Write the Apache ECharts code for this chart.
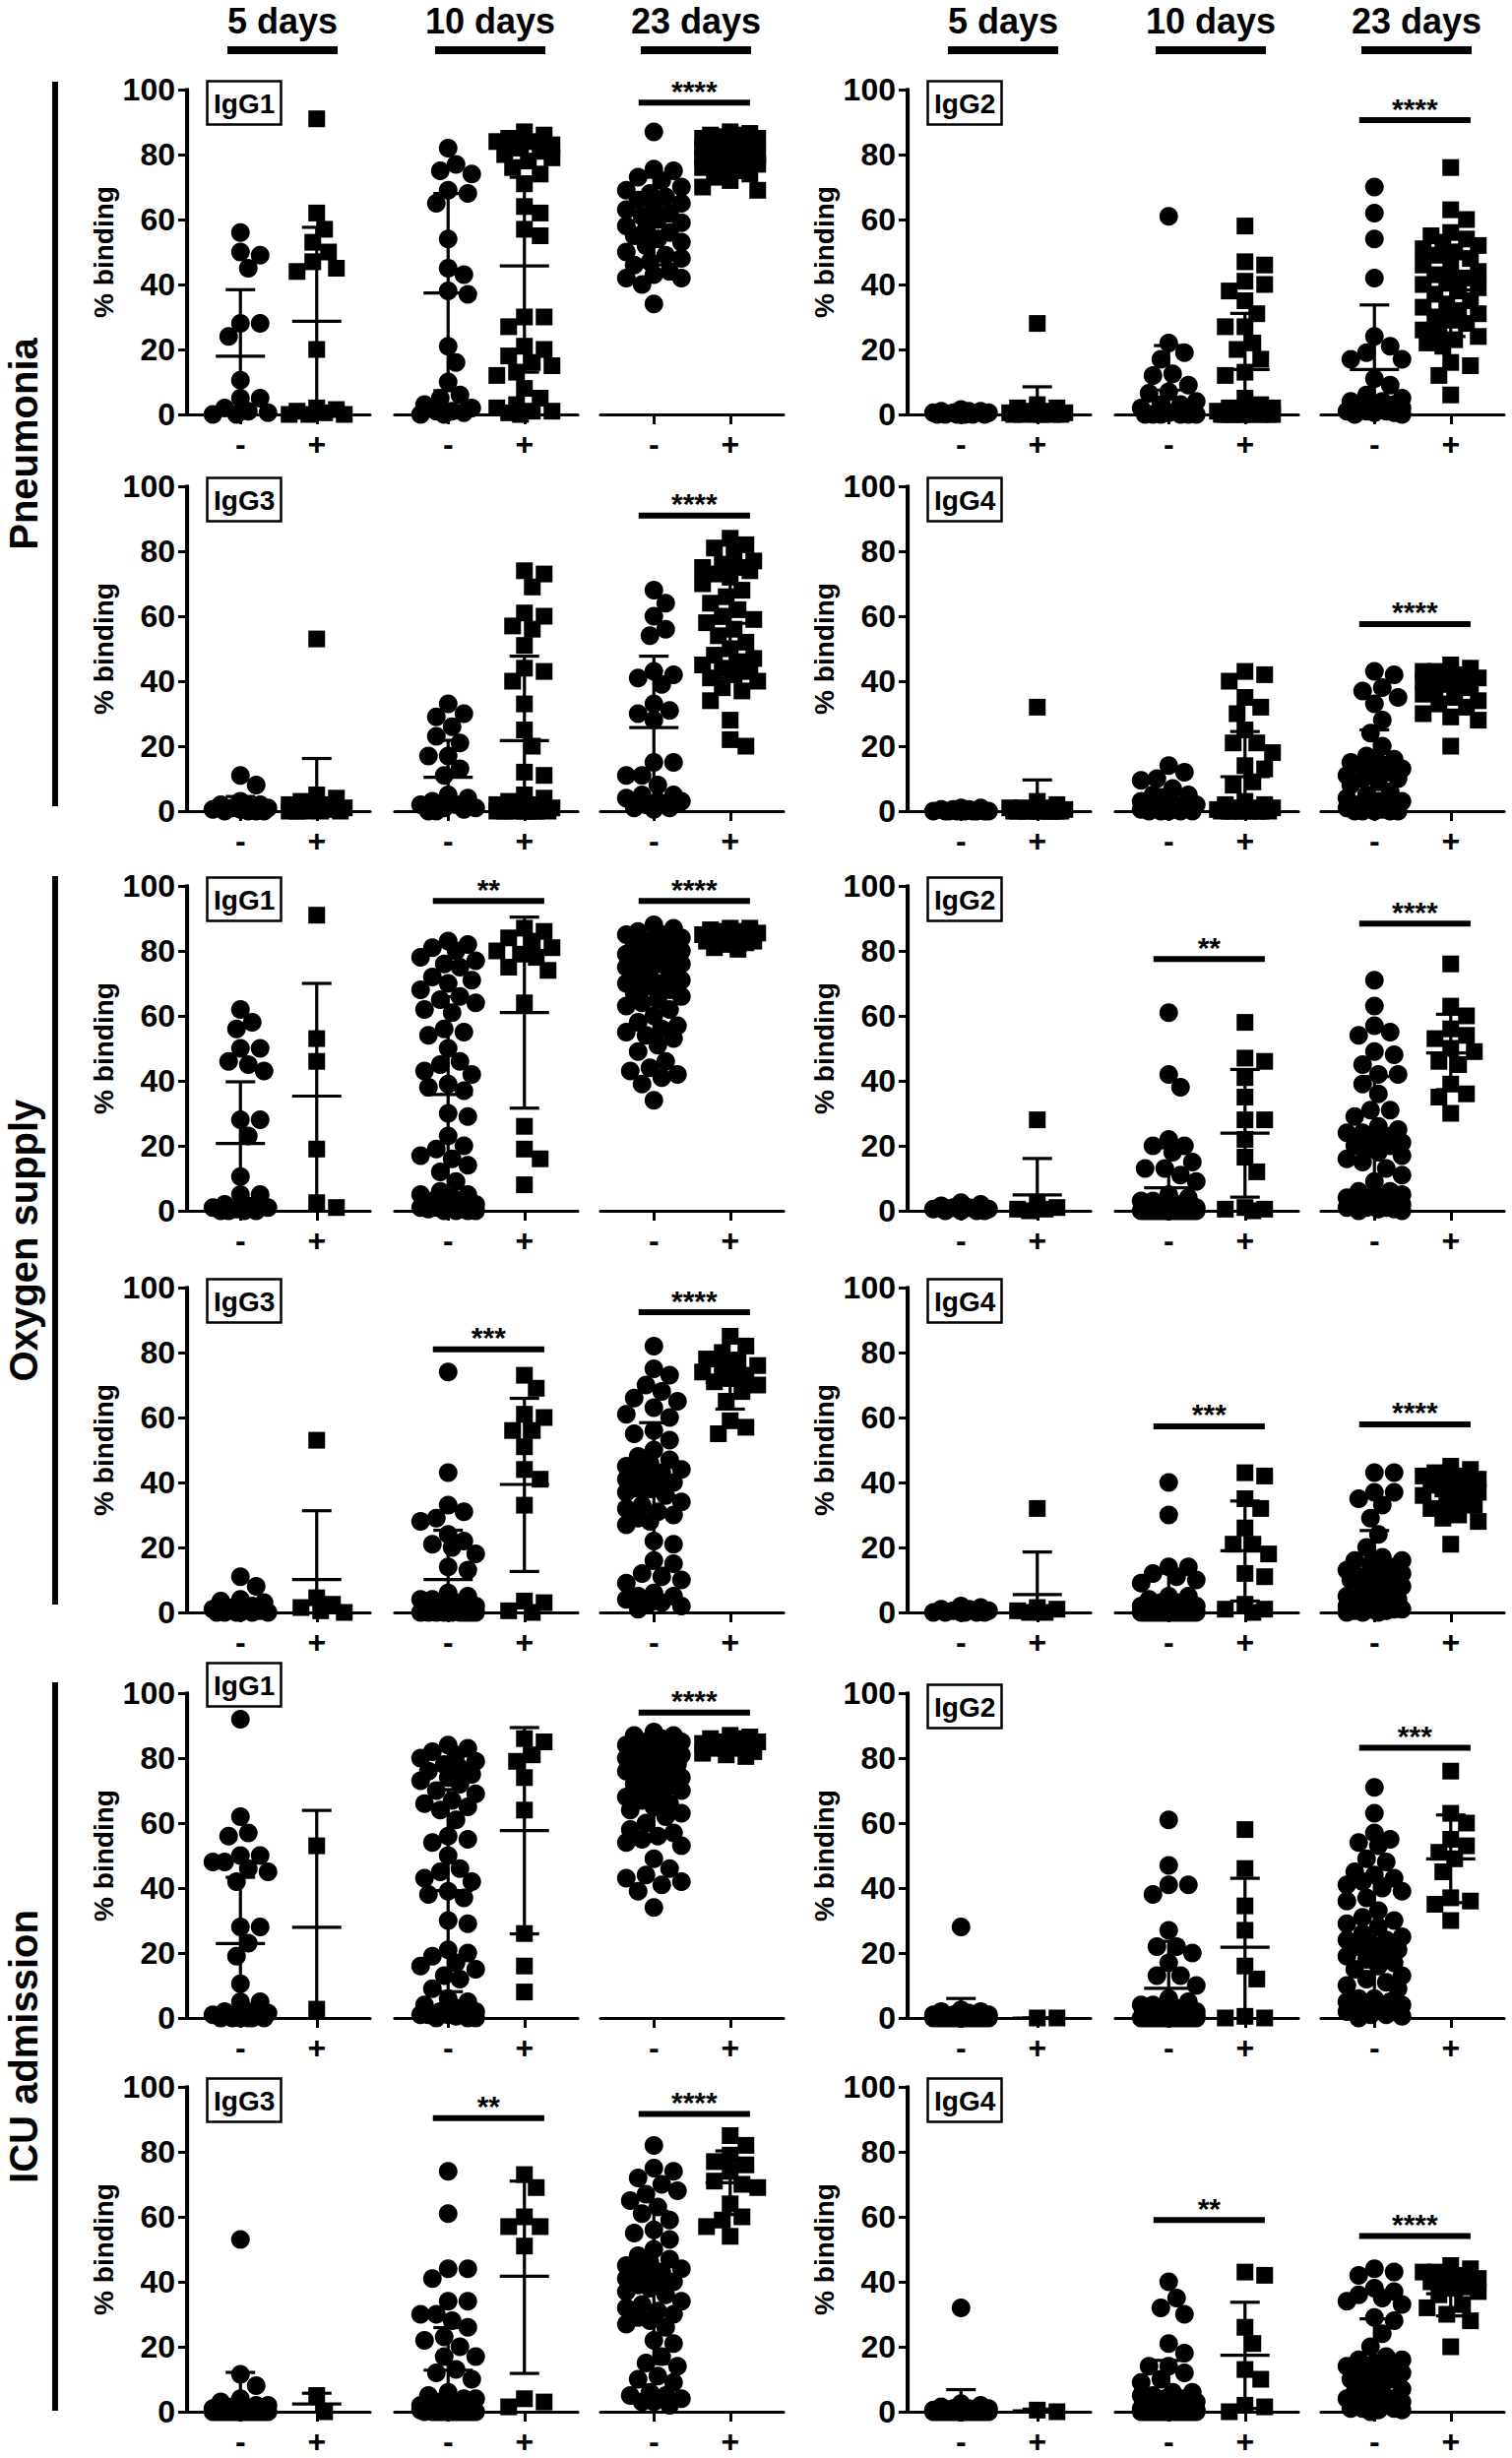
<!DOCTYPE html>
<html>
<head>
<meta charset="utf-8">
<title>IgG subclass binding</title>
<script src="https://cdn.jsdelivr.net/npm/echarts@6/dist/echarts.min.js"></script>
<style>
  html, body { margin: 0; padding: 0; background: #fff; }
  #main { width: 1536px; height: 2497px; }
</style>
</head>
<body>
<div id="main"></div>
<script>
// labels
var dayGroups = ['5 days', '10 days', '23 days'];
var statusLabels = ['-', '+'];
var rowGroups = ['Pneumonia', 'Oxygen supply', 'ICU admission'];

// % binding per panel, columns: 5d-, 5d+, 10d-, 10d+, 23d-, 23d+
var pneuIgG1 = [
  [56, 50, 49, 45, 28, 28, 24, 10.5, 5, 5, 2, 1, 0.5, 0, 0],
  [91, 62, 57, 53, 50, 47, 45, 44, 20, 2, 1.5, 1, 0.5, 0, 0, 0],
  [82, 77, 75, 74, 69, 68, 65, 54, 45, 43, 38, 37, 21, 16, 10, 6, 5, 3, 2, 1, 1, 0.5, 0, 0],
  [87, 86, 85, 84, 84, 83, 82, 81, 80, 79, 78, 76, 74, 71, 64, 62, 57, 55, 30, 30, 27, 21, 20, 18, 16, 15, 13, 12, 8, 5, 3, 2, 1, 1, 0.5, 0],
  [87, 75.5, 75, 73, 72, 70, 69, 68, 67, 66, 65, 64, 63, 62, 61, 60, 59, 58, 57, 56, 55, 54, 53, 52, 50, 49, 48, 47, 46, 44, 43, 42, 42, 40, 34],
  [87, 86.5, 86, 86, 85.5, 85, 85, 84, 84, 83, 83, 82, 82, 81, 81, 81, 80, 80, 80, 79, 79, 78, 78, 77, 77, 76, 76, 75, 74, 73, 72, 70, 69]
];
var pneuIgG2 = [
  [1.5, 1, 1, 1, 0.5, 0.5, 0.5, 0, 0, 0, 0, 0, 0, 0],
  [28, 3, 2, 2, 1, 1, 0.5, 0.5, 0, 0, 0, 0, 0, 0],
  [61, 22, 19, 17, 12.5, 12, 9, 7, 6.5, 4, 3, 3, 2, 1, 0.5, 0, 0, 0, 0, 0, 0],
  [58, 47, 46, 41, 40, 38, 35, 31, 27, 27, 22, 20, 17, 13, 12, 5, 3, 2, 2, 1, 1, 1, 0.5, 0.5, 0, 0, 0, 0, 0, 0, 0, 0, 0, 0],
  [70, 62, 54, 42, 24, 21, 19, 17, 17, 11, 9, 6, 5, 4, 4, 3, 3, 2, 2, 2, 1, 1, 1, 0.5, 0.5, 0, 0],
  [76, 63, 60, 56, 55, 54, 53, 52, 51, 50, 49, 48, 46, 45, 44, 43, 42, 41, 40, 39, 38, 37, 35, 34, 33, 32, 31, 30, 29, 28, 26, 25, 24, 23, 22, 21, 16, 15, 12, 6]
];
var pneuIgG3 = [
  [11, 8, 3, 2, 2, 1.5, 1, 1, 0.5, 0.5, 0, 0, 0, 0],
  [53, 5, 4, 3, 2, 2, 1, 1, 0.5, 0, 0, 0, 0, 0],
  [33, 30, 29, 26, 23, 21, 17, 17, 13, 11, 5, 4, 3, 2, 2, 1, 1, 0.5, 0, 0],
  [74, 73, 69, 61, 60, 57, 56, 51, 44, 43, 40, 33, 25, 20, 12, 11, 5, 4, 3, 2, 2, 1, 1, 0.5, 0, 0, 0, 0, 0, 0, 0, 0],
  [68, 64, 60, 56, 54, 43, 42, 41, 39, 33, 31, 30, 28, 15, 15, 11, 11, 8, 5, 5, 4, 3, 3, 2, 1, 1, 0.5],
  [84, 82, 81, 80, 77, 76, 75, 75, 74, 73, 72, 70, 68, 66, 64, 62, 60, 59, 58, 56, 54, 52, 50, 48, 47, 46, 45, 44, 43, 42, 41, 40, 38, 37, 34, 28, 22, 20]
];
var pneuIgG4 = [
  [1, 1, 0.5, 0.5, 0.5, 0, 0, 0, 0, 0, 0, 0, 0, 0],
  [32, 3, 2, 1, 1, 1, 0.5, 0.5, 0, 0, 0, 0, 0, 0, 0, 0, 0, 0],
  [14, 12, 10, 9.5, 7, 5, 5, 4, 3, 2, 2, 1, 1, 1, 0.5, 0.5, 0, 0, 0, 0, 0],
  [43, 42, 40, 35, 32, 30, 25, 21, 21, 18, 14, 13, 9, 8, 3, 2, 2, 1, 1, 1, 0.5, 0.5, 0, 0, 0, 0, 0, 0, 0, 0],
  [43, 42, 38, 37, 35, 33, 28, 24, 20, 17, 16, 15, 15, 14, 13, 12, 12, 11, 10, 10, 9, 8, 6, 5, 4, 3, 3, 2, 2, 1, 1, 0.5, 0, 0, 0, 0, 0],
  [45, 44, 43, 43, 42, 42, 41, 41, 40, 40, 40, 39, 39, 38, 37, 36, 35, 34, 33, 32, 30, 29, 28, 20]
];
var oxyIgG1 = [
  [62, 58, 56, 50, 50, 46, 45, 43, 28, 28, 23, 10.5, 5, 5, 2, 1.5, 1, 1, 0.5, 0, 0, 0, 0],
  [91, 53, 46, 19, 2.5, 1],
  [83, 82, 81, 80, 78, 77, 76, 75, 72, 71, 70, 68, 66, 65, 64, 62, 61, 56, 55, 54, 50, 46, 45, 43, 42, 39, 38, 37, 30, 29, 23, 20, 19, 17, 16, 14, 12, 9, 6, 5, 5, 4, 3, 2, 2, 2, 1, 1, 1, 0.5, 0.5, 0, 0, 0, 0],
  [87, 86, 84, 83, 81, 80, 79, 78, 75, 74, 64, 26, 19, 16, 8],
  [88, 87, 86, 85, 85, 84, 83, 83, 82, 81, 80, 80, 79, 78, 78, 77, 76, 76, 75, 74, 73, 72, 71, 70, 70, 69, 68, 67, 66, 65, 64, 63, 62, 60, 58, 57, 56, 55, 54, 53, 51, 49, 46, 44, 43, 42, 41, 39, 34],
  [87, 87, 86.5, 86, 86, 85.5, 85, 85, 84.5, 84, 84, 83.5, 83, 83, 82.5, 82, 81, 80.5]
];
var oxyIgG2 = [
  [2.5, 2, 1.5, 1, 1, 0.5, 0.5, 0, 0, 0, 0],
  [28, 2, 1, 0.5, 0.5, 0],
  [61, 42, 38, 22, 20, 20, 18, 15, 13, 13, 11, 9, 5, 4, 3, 3, 2, 2, 1, 1, 1, 0.5, 0.5, 0, 0, 0, 0, 0, 0, 0, 0, 0, 0, 0, 0, 0, 0, 0, 0, 0],
  [58, 47, 46, 41, 35, 28, 28, 22, 16.5, 12, 1, 0.5, 0.5, 0],
  [71, 63, 57, 55, 54, 49, 48, 45, 42, 42, 39, 36, 31, 31, 29, 26, 25, 24, 24, 23, 22, 21, 20, 20, 19, 18, 17, 16, 15, 13, 11, 9, 6, 6, 5, 5, 4, 4, 3, 3, 2, 2, 2, 1, 1, 1, 0.5, 0.5, 0, 0],
  [76, 63, 60, 56, 54, 53, 50, 49, 46, 45, 39, 36, 35, 30]
];
var oxyIgG3 = [
  [11, 8, 4, 3.5, 3, 2, 1.5, 1, 1, 0.5, 0, 0, 0, 0, 0, 0],
  [53, 4.5, 2.5, 1.5, 0.5, 0],
  [74, 43, 33, 31, 29, 28, 24, 22, 21, 20, 18, 14, 13, 6, 5, 4, 4, 3, 3, 2, 2, 2, 1, 1, 1, 0.5, 0.5, 0, 0, 0, 0, 0, 0, 0, 0, 0, 0],
  [73, 69, 61, 60, 56, 56, 51, 44, 41, 33, 3.5, 3, 0.5, 0],
  [82, 75, 73, 70, 68, 66, 65, 63, 61, 60, 56, 55, 53, 50, 48, 47, 46, 45, 44, 43, 43, 42, 41, 40, 40, 39, 38, 37, 36, 34, 33, 32, 31, 30, 29, 28, 27, 22, 21, 16, 15, 12, 11, 10, 9, 6, 5, 5, 4, 3, 3, 2, 1],
  [85, 82, 80, 78, 77, 76, 75, 74, 73, 72, 71, 70, 68, 65, 59, 57, 55]
];
var oxyIgG4 = [
  [2, 1.5, 1, 1, 0.5, 0.5, 0, 0, 0, 0, 0, 0],
  [32, 1.5, 1, 0.5, 0, 0],
  [40, 30, 14, 14, 12, 11, 10, 9, 5, 5, 4, 3, 3, 2, 2, 1, 1, 1, 0.5, 0.5, 0, 0, 0, 0, 0, 0, 0, 0, 0, 0, 0, 0, 0, 0, 0],
  [43, 42, 35, 32, 26, 21, 21, 18, 12, 11, 2.5, 1, 1, 0],
  [43, 43, 37, 37, 35, 33, 29, 24, 20, 17, 16, 16, 15, 14, 13, 12, 12, 11, 10, 10, 9, 8, 7, 6, 5, 4, 4, 3, 3, 3, 2, 2, 1, 1, 1, 0.5, 0.5, 0, 0, 0],
  [45, 44, 43, 42, 42, 41, 41, 40, 40, 39, 38, 37, 36, 35, 34, 33, 32, 30, 29, 28, 21]
];
var icuIgG1 = [
  [92, 62, 57, 56, 50, 50, 48, 48, 46, 45, 42, 28, 28, 23, 19, 10.5, 5, 5, 2, 2, 1.5, 1, 1, 1, 0.5, 0.5, 0, 0, 0, 0, 0, 0],
  [53, 2.7],
  [84, 83, 82, 81, 80, 79, 78, 77, 76, 75, 74, 73, 72, 70, 69, 67, 66, 65, 64, 61, 56, 55, 54, 50, 46, 45, 43, 42, 39, 38, 37, 30, 29, 21, 20, 19, 17, 16, 15, 13, 12, 9, 6, 5, 4, 3, 2, 2, 2, 1, 1, 1, 0.5, 0, 0, 0],
  [86, 85, 81, 79, 74, 64, 26, 16, 8],
  [88, 87, 87, 86, 85, 85, 84, 83, 83, 82, 81, 80, 80, 79, 79, 78, 77, 76, 76, 75, 74, 73, 72, 72, 71, 70, 69, 68, 67, 66, 65, 64, 63, 62, 60, 58, 57, 56, 55, 54, 53, 49, 46, 44, 43, 42, 41, 39, 34],
  [87, 86.5, 86, 86, 85, 85, 84.5, 84, 84, 83, 83, 82, 81.5, 81, 80.5]
];
var icuIgG2 = [
  [28, 2.5, 2, 2, 1.5, 1, 1, 1, 0.5, 0.5, 0.5, 0, 0, 0, 0, 0, 0, 0, 0, 0, 0, 0, 0, 0, 0, 0, 0, 0, 0, 0],
  [0, 0],
  [61, 47, 41, 41, 38, 27, 22, 22, 20, 17, 13, 13, 10, 6, 5, 4, 4, 3, 3, 2, 2, 2, 1, 1, 1, 1, 0.5, 0.5, 0.5, 0, 0, 0, 0, 0, 0, 0, 0, 0, 0, 0, 0, 0, 0, 0, 0, 0],
  [58, 46, 34.5, 27, 16, 12, 0.5, 0, 0],
  [71, 63, 57, 55, 54, 53, 49, 48, 45, 44, 43, 42, 41, 40, 39, 37, 36, 33, 31, 30, 29, 28, 26, 25, 24, 24, 23, 22, 21, 20, 19, 18, 17, 16, 15, 13, 12, 11, 10, 9, 6, 6, 5, 5, 4, 4, 3, 3, 2, 2, 1, 1, 0.5, 0],
  [76, 63, 60, 55, 53, 51, 49, 45, 37, 36, 35, 30]
];
var icuIgG3 = [
  [53, 11.5, 8, 4, 3, 2, 2, 1.5, 1, 1, 1, 0.5, 0.5, 0.5, 0, 0, 0, 0, 0, 0, 0, 0, 0, 0, 0, 0, 0, 0, 0, 0, 0],
  [5, 0],
  [74, 61, 44, 44, 41, 34, 34, 30, 30, 28, 26, 23, 22, 20, 17, 17, 13, 12, 10, 6, 5, 4, 4, 3, 3, 2, 2, 2, 1, 1, 1, 1, 0.5, 0.5, 0.5, 0, 0, 0, 0, 0, 0, 0, 0, 0, 0, 0, 0, 0],
  [73, 69, 60, 57, 57, 51, 4, 3, 1.5],
  [82, 75, 74, 72, 70, 68, 67, 65, 63, 61, 59, 56, 55, 53, 50, 48, 47, 46, 45, 44, 43, 43, 42, 41, 40, 40, 39, 38, 37, 36, 34, 33, 32, 31, 30, 29, 28, 27, 26, 22, 21, 17, 15, 14, 11, 10, 9, 6, 5, 5, 4, 3, 3, 2],
  [85, 82, 79, 77, 76, 74, 71, 70, 69, 64, 60, 59, 57, 54]
];
var icuIgG4 = [
  [32, 2.5, 2, 1.5, 1, 1, 1, 0.5, 0.5, 0.5, 0, 0, 0, 0, 0, 0, 0, 0, 0, 0, 0, 0, 0, 0, 0, 0, 0, 0, 0, 0],
  [0.5, 0],
  [40, 35, 32, 30, 21, 18, 14, 14, 12, 10, 9, 6, 6, 5, 5, 4, 4, 3, 3, 2, 2, 2, 1, 1, 1, 1, 0.5, 0.5, 0.5, 0.5, 0, 0, 0, 0, 0, 0, 0, 0, 0, 0, 0, 0, 0, 0, 0, 0],
  [43, 42, 26, 21, 13, 10, 2, 1.5, 0],
  [44, 43, 42, 38, 37, 36, 35, 34, 33, 29, 28, 24, 20, 17, 16, 16, 15, 14, 13, 12, 12, 11, 10, 10, 9, 8, 7, 6, 5, 4, 4, 3, 3, 3, 2, 2, 1, 1, 1, 0.5, 0.5, 0],
  [45, 44, 43, 43, 42, 41, 40, 40, 39, 38, 37, 36, 33, 32, 30, 28, 20]
];

// mean, lower SD end, upper SD end (as drawn), same column order
var pneuIgG1Err = [[17.9, 0, 38.4], [28.7, 0, 57.6], [37.4, 7.3, 68], [45.7, 13, 73], [59.5, 46, 73], [80.3, 75.5, 85]];
var pneuIgG2Err = [[0.4, 0, 1], [1.5, 0, 8.5], [7.5, 0, 21.2], [13.8, 0, 31.1], [13.8, 0, 33.7], [38.3, 24, 52]];
var pneuIgG3Err = [[1.3, 0, 4.5], [3.5, 0, 16.2], [10.4, 0, 21.8], [21.7, 0, 47.7], [25.7, 3.5, 47.7], [57.8, 41, 74]];
var pneuIgG4Err = [[0.3, 0, 0.8], [1.8, 0, 9.6], [2.8, 0, 6.6], [10.6, 0, 24.5], [12.6, 0.5, 25], [37.4, 33, 42]];
var oxyIgG1Err = [[20.7, 1.7, 39.7], [35.3, 0, 70], [35.8, 5.4, 65.9], [61, 31.6, 90.4], [67.5, 54, 81], [84, 82, 86]];
var oxyIgG2Err = [[0.5, 0, 1.5], [4.9, 0, 16.1], [7.1, 0, 19.4], [23.9, 4.2, 43.5], [21.6, 2, 41.3], [48.6, 37.3, 60.5]];
var oxyIgG3Err = [[1.2, 0, 3.5], [10.1, 0, 31.3], [10.1, 0, 25.3], [39.4, 12.6, 65.9], [35.9, 13.6, 58.4], [70.7, 62.6, 79.8]];
var oxyIgG4Err = [[0.4, 0, 1], [5.5, 0, 18.6], [4.2, 0, 12.1], [19, 3.5, 34.3], [12.6, 0, 25.2], [37.1, 32, 42]];
var icuIgG1Err = [[22.9, 2.5, 43.3], [27.9, 0, 63.9], [39.2, 8.1, 70.3], [57.7, 25.9, 89.4], [69.3, 56, 82.6], [84, 82, 86]];
var icuIgG2Err = [[1.2, 0, 6], [0, 0, 0], [9.1, 0, 23.6], [21.8, 0, 43], [23.9, 5, 42.8], [49, 35.5, 62.5]];
var icuIgG3Err = [[2.7, 0, 12.1], [2.4, 0, 5.7], [12.8, 0, 25.9], [41.7, 11.8, 71], [38.3, 14.8, 61.7], [70.5, 60.7, 80.3]];
var icuIgG4Err = [[1.2, 0, 6.8], [0.3, 0, 0.8], [5.7, 0, 15.8], [17.4, 1, 33.7], [14.3, 0.5, 28.6], [36.3, 29.5, 43]];

// significance: [day group, bar height, stars]
var pneuIgG1Sig = [[2, 96, '****']];
var pneuIgG2Sig = [[2, 90.6, '****']];
var pneuIgG3Sig = [[2, 91, '****']];
var pneuIgG4Sig = [[2, 57.6, '****']];
var oxyIgG1Sig = [[1, 95.4, '**'], [2, 95.4, '****']];
var oxyIgG2Sig = [[1, 77.5, '**'], [2, 88.4, '****']];
var oxyIgG3Sig = [[1, 81, '***'], [2, 92.4, '****']];
var oxyIgG4Sig = [[1, 57.3, '***'], [2, 57.9, '****']];
var icuIgG1Sig = [[2, 94, '****']];
var icuIgG2Sig = [[2, 83.2, '***']];
var icuIgG3Sig = [[1, 90.4, '**'], [2, 91.7, '****']];
var icuIgG4Sig = [[1, 59, '**'], [2, 54.1, '****']];

// panels in reading order (two per row)
var panels = [
  { name: 'IgG1', pts: pneuIgG1, err: pneuIgG1Err, sig: pneuIgG1Sig },
  { name: 'IgG2', pts: pneuIgG2, err: pneuIgG2Err, sig: pneuIgG2Sig },
  { name: 'IgG3', pts: pneuIgG3, err: pneuIgG3Err, sig: pneuIgG3Sig },
  { name: 'IgG4', pts: pneuIgG4, err: pneuIgG4Err, sig: pneuIgG4Sig },
  { name: 'IgG1', pts: oxyIgG1, err: oxyIgG1Err, sig: oxyIgG1Sig },
  { name: 'IgG2', pts: oxyIgG2, err: oxyIgG2Err, sig: oxyIgG2Sig },
  { name: 'IgG3', pts: oxyIgG3, err: oxyIgG3Err, sig: oxyIgG3Sig },
  { name: 'IgG4', pts: oxyIgG4, err: oxyIgG4Err, sig: oxyIgG4Sig },
  { name: 'IgG1', pts: icuIgG1, err: icuIgG1Err, sig: icuIgG1Sig, boxUp: 22 },
  { name: 'IgG2', pts: icuIgG2, err: icuIgG2Err, sig: icuIgG2Sig },
  { name: 'IgG3', pts: icuIgG3, err: icuIgG3Err, sig: icuIgG3Sig },
  { name: 'IgG4', pts: icuIgG4, err: icuIgG4Err, sig: icuIgG4Sig }
];

// layout
var FONT = '"Liberation Sans", Arial, Helvetica, sans-serif';
var rowTop = [91, 494, 900, 1308, 1720, 2120];
var plotH = 330;
var colLeft = [190, 922];
var segOff = [0, 211, 420];
var segW = 186;
var xMin = -0.7, xMax = 1.7;

// spread points sideways so they do not pile up (dot plot layout)
function swarm(vals) {
  var pxX = segW / (xMax - xMin), pxY = plotH / 100;
  var D = 17, maxOff = 30, cand = [0];
  for (var k = 4; k <= maxOff; k += 4) cand.push(k, -k);
  var placed = [], out = [];
  vals.slice().sort(function (a, b) { return b - a; }).forEach(function (v) {
    var best = 0, bestD = -1;
    for (var i = 0; i < cand.length; i++) {
      var c = cand[i], md = Infinity;
      placed.forEach(function (p) {
        var d = Math.sqrt((c - p[0]) * (c - p[0]) + (v - p[1]) * (v - p[1]) * pxY * pxY);
        if (d < md) md = d;
      });
      if (md >= D) { best = c; break; }
      if (md > bestD) { bestD = md; best = c; }
    }
    placed.push([best, v]);
    out.push([best / pxX, v]);
  });
  return out;
}

// error bars: data [x, mean, lo, hi]
function errRender(params, api) {
  var x = api.value(0), lo = api.value(2), hi = api.value(3);
  var c = api.coord([x, api.value(1)]);
  var a = api.coord([x, lo]);
  var b = api.coord([x, hi]);
  var st = { stroke: '#000', lineWidth: 3.2 };
  var ch = [
    { type: 'line', shape: { x1: c[0], y1: a[1], x2: c[0], y2: b[1] }, style: st },
    { type: 'line', shape: { x1: c[0] - 25, y1: c[1], x2: c[0] + 25, y2: c[1] }, style: st },
    { type: 'line', shape: { x1: c[0] - 15, y1: b[1], x2: c[0] + 15, y2: b[1] }, style: st }
  ];
  if (lo > 0.8) ch.push({ type: 'line', shape: { x1: c[0] - 15, y1: a[1], x2: c[0] + 15, y2: a[1] }, style: st });
  return { type: 'group', children: ch };
}

function sigRender(label) {
  return function (params, api) {
    var p1 = api.coord([api.value(0), api.value(2)]);
    var p2 = api.coord([api.value(1), api.value(2)]);
    return {
      type: 'group',
      children: [
        { type: 'line', shape: { x1: p1[0], y1: p1[1], x2: p2[0], y2: p2[1] }, style: { stroke: '#000', lineWidth: 6 } },
        { type: 'text', x: (p1[0] + p2[0]) / 2, y: p1[1] - 12,
          style: { text: label, fill: '#000', font: 'bold 30px ' + FONT, align: 'center', verticalAlign: 'middle' } }
      ]
    };
  };
}

var grids = [], xAxes = [], yAxes = [], series = [], titles = [], graphics = [];

panels.forEach(function (pn, pi) {
  var row = Math.floor(pi / 2), col = pi % 2;
  var left0 = colLeft[col];
  titles.push({
    text: pn.name,
    left: left0 + 20,
    top: rowTop[row] - 9 - (pn.boxUp || 0),
    padding: [6, 7, 5, 7],
    borderColor: '#000',
    borderWidth: 2.5,
    textStyle: { fontFamily: FONT, fontSize: 28, fontWeight: 'bold', color: '#000', lineHeight: 34 }
  });
  // y axis spine at the left edge of the panel
  graphics.push({ type: 'rect', z: 100, silent: true,
    shape: { x: left0 - 2, y: rowTop[row] - 1.5, width: 4, height: plotH + 3 },
    style: { fill: '#000' } });
  for (var s = 0; s < 3; s++) {
    var gi = grids.length;
    grids.push({ left: left0 + segOff[s], top: rowTop[row], width: segW, height: plotH });
    xAxes.push({
      gridIndex: gi, type: 'value', min: xMin, max: xMax,
      axisLine: { show: true, onZero: false, lineStyle: { color: '#000', width: 3.2 } },
      axisTick: { show: true, customValues: [0, 1], length: 10, lineStyle: { color: '#000', width: 3 } },
      axisLabel: {
        customValues: [0, 1], margin: 14, color: '#000',
        fontFamily: FONT, fontSize: 32, fontWeight: 'bold',
        formatter: function (v) { return v < 0.5 ? statusLabels[0] : statusLabels[1]; }
      },
      splitLine: { show: false }
    });
    yAxes.push({
      gridIndex: gi, type: 'value', min: 0, max: 100, interval: 20, show: s === 0,
      name: s === 0 ? '% binding' : '', nameLocation: 'middle', nameGap: 71,
      nameTextStyle: { fontFamily: FONT, fontSize: 28, fontWeight: 'bold', color: '#000' },
      axisLine: { show: true, onZero: false, lineStyle: { color: '#000', width: 3.2 } },
      axisTick: { show: true, length: 9, lineStyle: { color: '#000', width: 3 } },
      axisLabel: { margin: 12, color: '#000', fontFamily: FONT, fontSize: 32, fontWeight: 'bold' },
      splitLine: { show: false }
    });
    var neg = pn.pts[2 * s], pos = pn.pts[2 * s + 1];
    series.push({
      type: 'scatter', xAxisIndex: gi, yAxisIndex: gi, symbol: 'circle', symbolSize: 19, silent: true,
      itemStyle: { color: '#000', opacity: 1 },
      data: swarm(neg).map(function (d) { return [d[0], d[1]]; })
    });
    series.push({
      type: 'scatter', xAxisIndex: gi, yAxisIndex: gi, symbol: 'rect', symbolSize: 17, silent: true,
      itemStyle: { color: '#000', opacity: 1 },
      data: swarm(pos).map(function (d) { return [1 + d[0], d[1]]; })
    });
    var en = pn.err[2 * s], ep = pn.err[2 * s + 1];
    series.push({
      type: 'custom', xAxisIndex: gi, yAxisIndex: gi, silent: true, z: 5, clip: false,
      renderItem: errRender,
      data: [[0, en[0], en[1], en[2]], [1, ep[0], ep[1], ep[2]]]
    });
    pn.sig.forEach(function (sg) {
      if (sg[0] !== s) return;
      series.push({
        type: 'custom', xAxisIndex: gi, yAxisIndex: gi, silent: true, z: 5, clip: false,
        renderItem: sigRender(sg[2]),
        data: [[-0.2, 1.26, sg[1]]]
      });
    });
  }
});

// day headers with underline bars
[0, 1].forEach(function (col) {
  dayGroups.forEach(function (d, s) {
    var cx = colLeft[col] + segOff[s] + segW / 2 + 4;
    graphics.push({ type: 'text', x: cx, y: 3,
      style: { text: d, fill: '#000', font: 'bold 36px ' + FONT, align: 'center', verticalAlign: 'top' } });
    graphics.push({ type: 'rect', shape: { x: cx - 56, y: 47, width: 112, height: 8 }, style: { fill: '#000' } });
  });
});

// row group labels with vertical bars
var barSpan = [[83, 819], [890, 1630], [1709, 2449]];
rowGroups.forEach(function (r, i) {
  var mid = (barSpan[i][0] + barSpan[i][1]) / 2;
  graphics.push({ type: 'rect', shape: { x: 53, y: barSpan[i][0], width: 6, height: barSpan[i][1] - barSpan[i][0] }, style: { fill: '#000' } });
  graphics.push({ type: 'text', x: 24, y: mid, rotation: Math.PI / 2,
    style: { text: r, fill: '#000', font: 'bold 40px ' + FONT, align: 'center', verticalAlign: 'middle' } });
});

var chart = echarts.init(document.getElementById('main'), null, { renderer: 'svg' });
chart.setOption({
  backgroundColor: '#fff',
  animation: false,
  title: titles,
  grid: grids,
  xAxis: xAxes,
  yAxis: yAxes,
  series: series,
  graphic: graphics
});
</script>
</body>
</html>
